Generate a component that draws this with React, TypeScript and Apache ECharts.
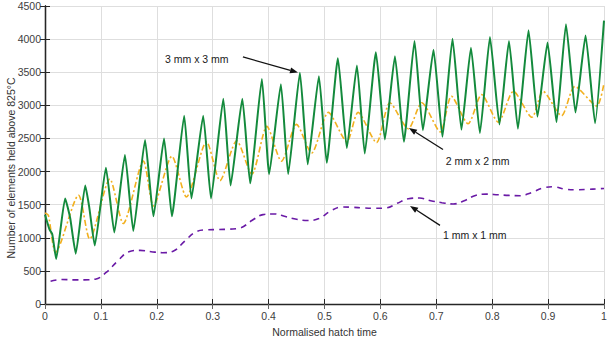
import React, { useEffect, useRef } from "react";
import * as echarts from "echarts";

// 3 mm x 3 mm (green, solid)
const mm3T = [0, 0.008, 0.013, 0.02, 0.036, 0.045, 0.055, 0.072, 0.079, 0.089, 0.109, 0.124, 0.143, 0.158, 0.179, 0.194, 0.213, 0.227, 0.249, 0.262, 0.283, 0.297, 0.319, 0.332, 0.353, 0.367, 0.388, 0.401, 0.422, 0.435, 0.456, 0.47, 0.49, 0.504, 0.524, 0.54, 0.558, 0.572, 0.592, 0.608, 0.626, 0.642, 0.661, 0.676, 0.695, 0.711, 0.729, 0.745, 0.762, 0.778, 0.796, 0.813, 0.83, 0.846, 0.865, 0.881, 0.899, 0.915, 0.932, 0.949, 0.967, 0.984, 1.0];
const mm3V = [1349, 1128, 1054, 680, 1594, 1300, 760, 1790, 1470, 882, 2059, 1079, 2250, 1103, 2476, 1324, 2500, 1324, 2844, 1594, 2844, 1594, 3098, 1790, 3098, 1824, 3397, 1961, 3319, 1961, 3491, 2109, 3441, 2132, 3712, 2353, 3603, 2271, 3800, 2485, 3741, 2451, 3971, 2624, 3838, 2525, 4006, 2632, 3870, 2580, 4030, 2712, 3971, 2647, 4132, 2829, 3947, 2746, 4226, 2893, 4054, 2731, 4279];

// 2 mm x 2 mm (orange, dash-dot)
const mm2T = [0, 0.006, 0.019, 0.06, 0.08, 0.116, 0.14, 0.176, 0.194, 0.227, 0.253, 0.289, 0.313, 0.343, 0.37, 0.397, 0.423, 0.45, 0.477, 0.507, 0.54, 0.56, 0.593, 0.617, 0.65, 0.674, 0.707, 0.727, 0.757, 0.781, 0.811, 0.838, 0.871, 0.891, 0.924, 0.948, 0.987, 1.0];
const mm2V = [1373, 1340, 780, 1643, 980, 1888, 1215, 2157, 1480, 2231, 1618, 2451, 1863, 2466, 1961, 2682, 2157, 2712, 2280, 2893, 2451, 2893, 2437, 3040, 2647, 3040, 2599, 3138, 2721, 3162, 2746, 3212, 2819, 3212, 2843, 3285, 2990, 3334];

// 1 mm x 1 mm (purple, dashed)
const mm1T = [0.01, 0.03, 0.05, 0.07, 0.09, 0.11, 0.13, 0.15, 0.17, 0.19, 0.21, 0.23, 0.25, 0.27, 0.29, 0.31, 0.33, 0.35, 0.37, 0.39, 0.41, 0.43, 0.45, 0.47, 0.49, 0.51, 0.53, 0.55, 0.57, 0.59, 0.61, 0.63, 0.65, 0.67, 0.69, 0.71, 0.73, 0.75, 0.77, 0.79, 0.81, 0.83, 0.85, 0.87, 0.89, 0.91, 0.93, 0.95, 0.97, 0.99, 1.0];
const mm1V = [345, 370, 365, 365, 375, 480, 650, 790, 810, 790, 775, 800, 950, 1090, 1120, 1125, 1130, 1150, 1260, 1350, 1360, 1320, 1280, 1260, 1290, 1400, 1465, 1460, 1450, 1445, 1450, 1520, 1590, 1600, 1560, 1530, 1510, 1560, 1640, 1660, 1650, 1640, 1635, 1680, 1750, 1770, 1735, 1725, 1730, 1740, 1745];

// Annotations: label, text anchor [t, v], arrow tail [t, v], arrow tip [t, v]
const annLabels = ["3 mm x 3 mm", "2 mm x 2 mm", "1 mm x 1 mm"];
const annText = [[0.2147, 3701], [0.717, 2157], [0.712, 1040]];
const annTail = [[0.354, 3731], [0.712, 2334], [0.7066, 1187]];
const annTip = [[0.4526, 3496], [0.651, 2657], [0.653, 1481]];

const xTitle = "Normalised hatch time";
const yTitle = "Number of elements held above 825°C";

const FONT = "'Liberation Sans', Arial, sans-serif";

function zip(t: number[], v: number[]) {
  return t.map((x, i) => [x, v[i]]);
}

export default function App() {
  const ref = useRef<HTMLDivElement>(null);
  useEffect(() => {
    if (!ref.current) return;
    const chart = echarts.init(ref.current, undefined, { renderer: "svg" });
    const axisLineStyle = { color: "#262626", width: 1.3 };
    const tickStyle = { color: "#262626", width: 1 };
    chart.setOption({
      animation: false,
      backgroundColor: "#ffffff",
      grid: { left: 45, right: 7, top: 6, bottom: 30 },
      xAxis: [
        {
          type: "value",
          min: 0,
          max: 1,
          interval: 0.1,
          position: "bottom",
          axisLine: { show: true, lineStyle: axisLineStyle },
          axisTick: { show: true, inside: true, length: 5, lineStyle: tickStyle },
          axisLabel: {
            color: "#404040",
            fontSize: 10.5,
            fontFamily: FONT,
            margin: 6,
            formatter: (v: number) => String(Math.round(v * 10) / 10),
          },
          splitLine: { show: true, lineStyle: { color: "#dedede", width: 1 } },
          name: xTitle,
          nameLocation: "middle",
          nameGap: 22,
          nameTextStyle: { color: "#333", fontSize: 10.5, fontFamily: FONT },
        },
        {
          type: "value",
          min: 0,
          max: 1,
          interval: 0.1,
          position: "top",
          axisLine: { show: false },
          axisTick: { show: true, inside: true, length: 5, lineStyle: { color: "#666", width: 1 } },
          axisLabel: { show: false },
          splitLine: { show: false },
        },
      ],
      yAxis: [
        {
          type: "value",
          min: 0,
          max: 4500,
          interval: 500,
          position: "left",
          axisLine: { show: true, lineStyle: axisLineStyle },
          axisTick: { show: true, inside: true, length: 5, lineStyle: tickStyle },
          axisLabel: {
            color: "#404040",
            fontSize: 10.5,
            fontFamily: FONT,
            margin: 4,
            formatter: (v: number) => String(Math.round(v)),
          },
          splitLine: { show: true, lineStyle: { color: "#dedede", width: 1 } },
        },
        {
          type: "value",
          min: 0,
          max: 4500,
          interval: 500,
          position: "right",
          axisLine: { show: true, lineStyle: axisLineStyle },
          axisTick: { show: true, inside: true, length: 5, lineStyle: tickStyle },
          axisLabel: { show: false },
          splitLine: { show: false },
        },
      ],
      series: [
        {
          type: "line",
          name: "1 mm x 1 mm",
          data: zip(mm1T, mm1V),
          smooth: 0.4,
          showSymbol: false,
          lineStyle: { color: "#6a1aa6", width: 1.6, type: [6, 5] },
          z: 2,
        },
        {
          type: "line",
          name: "2 mm x 2 mm",
          data: zip(mm2T, mm2V),
          smooth: 0.25,
          showSymbol: false,
          lineStyle: { color: "#f2b01e", width: 1.6, type: [6, 2.5, 2, 2.5] },
          z: 3,
        },
        {
          type: "line",
          name: "3 mm x 3 mm",
          data: zip(mm3T, mm3V),
          smooth: 0.15,
          showSymbol: false,
          lineStyle: { color: "#138a3c", width: 2 },
          z: 4,
        },
      ],
    });

    const toPx = (p: number[]) => chart.convertToPixel({ xAxisIndex: 0, yAxisIndex: 0 }, p) as number[];
    const graphics: any[] = [];
    annLabels.forEach((label, i) => {
      const tp = toPx(annText[i]);
      const tail = toPx(annTail[i]);
      const tip = toPx(annTip[i]);
      graphics.push({
        type: "text",
        x: tp[0],
        y: tp[1],
        style: { text: label, fill: "#1a1a1a", font: `10.5px ${FONT}`, align: "left", verticalAlign: "middle" },
        z: 100,
      });
      const dx = tip[0] - tail[0];
      const dy = tip[1] - tail[1];
      const len = Math.sqrt(dx * dx + dy * dy);
      const ux = dx / len;
      const uy = dy / len;
      const hl = 8;
      const hw = 3;
      const bx = tip[0] - ux * hl;
      const by = tip[1] - uy * hl;
      graphics.push({
        type: "line",
        shape: { x1: tail[0], y1: tail[1], x2: bx, y2: by },
        style: { stroke: "#111", lineWidth: 1.3 },
        z: 100,
      });
      graphics.push({
        type: "polygon",
        shape: {
          points: [
            [tip[0], tip[1]],
            [bx - uy * hw, by + ux * hw],
            [bx + uy * hw, by - ux * hw],
          ],
        },
        style: { fill: "#111" },
        z: 100,
      });
    });
    graphics.push({
      type: "text",
      x: 11,
      y: 168,
      rotation: Math.PI / 2,
      style: { text: yTitle, fill: "#333", font: `10.5px ${FONT}`, align: "center", verticalAlign: "middle" },
      z: 100,
    });
    chart.setOption({ graphic: graphics });

    return () => chart.dispose();
  }, []);
  return (
    <div
      ref={ref}
      style={{ position: "fixed", left: 0, top: 0, width: 611, height: 342, background: "#fff" }}
    />
  );
}
